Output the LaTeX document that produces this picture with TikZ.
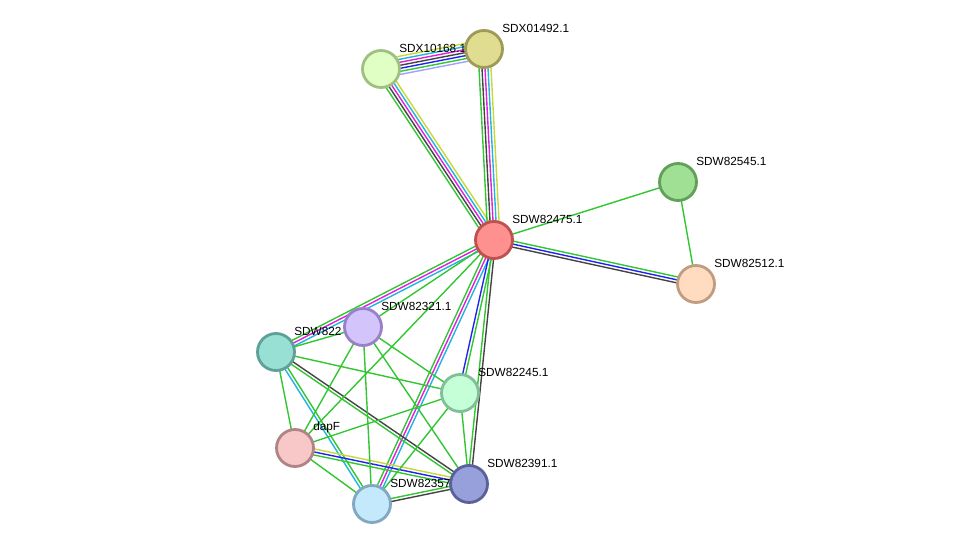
\documentclass[tikz,border=0pt]{standalone}
\usepackage{fontspec}
\setmainfont{Liberation Sans}
\usetikzlibrary{calc}

\definecolor{eg}{HTML}{33C633}
\definecolor{ek}{HTML}{444444}
\definecolor{em}{HTML}{DD22DD}
\definecolor{ec}{HTML}{22B4E0}
\definecolor{ey}{HTML}{C8D838}
\definecolor{eb}{HTML}{2222F0}
\definecolor{el}{HTML}{A0A0FF}

\pgfdeclarelayer{bg}
\pgfsetlayers{bg,main}

\begin{document}
\begin{tikzpicture}[
    x=0.02cm, y=-0.02cm,
    every node/.style={font=\fontsize{6.7}{8}\selectfont},
    prot/.style={circle, minimum size=0.74cm, inner sep=0pt, line width=1.6pt},
    tag/.style={anchor=west, inner sep=0pt},
    link/.style={line width=0.8pt},
]
    \useasboundingbox (0,0) rectangle (976,550);

    % proteins and their names
    \foreach \id/\x/\y/\fc/\dc/\txt in {
        x10168/381/69/E0FFC4/A0C080/SDX10168.1,
        x01492/484/49/E0DC90/A09A58/SDX01492.1,
        hub/494/240/FF9090/C05050/SDW82475.1,
        s82545/678/182/A0E094/60A058/SDW82545.1,
        s82512/696/284/FFDCC0/C09C80/SDW82512.1,
        teal/276/352/98E0D4/60A098/SDW822,
        s82321/363/327/D4C4FC/9A80C8/SDW82321.1,
        s82245/460/393/C4FFD8/80C098/SDW82245.1,
        dapF/295/448/F8C8C8/B08484/dapF,
        s82357/372/504/C4E8FC/80A8C0/SDW82357,
        s82391/469/484/98A0DC/5A6098/SDW82391.1%
    } {
        \definecolor{nf}{HTML}{\fc}
        \definecolor{nd}{HTML}{\dc}
        \node[prot, fill=nf, draw=nd] (\id) at (\x,\y) {};
        \node[tag] (\id-l) at ([shift={(18,-21)}]\id.center) {\txt};
    }

    % evidence lines, one per colour, side by side
    \begin{pgfonlayer}{bg}
    \foreach \pa/\pb/\n/\cols in {
        hub/x10168/5/{ey,ec,em,ek,eg},
        hub/x01492/5/{ey,ec,em,ek,eg},
        x10168/x01492/7/{el,eg,eb,ek,em,ec,ey},
        hub/s82512/3/{ek,eb,eg},
        hub/teal/3/{eg,em,ec},
        hub/s82357/3/{eg,em,ec},
        hub/s82245/2/{eb,eg},
        hub/s82391/2/{eg,ek},
        teal/s82357/2/{ec,eg},
        teal/s82391/2/{eg,ek},
        dapF/s82391/3/{eg,eb,ey},
        s82357/s82391/2/{ek,eg},
        hub/s82545/1/{eg}, s82545/s82512/1/{eg}, hub/s82321/1/{eg}, hub/dapF/1/{eg},
        teal/s82321/1/{eg}, teal/s82245/1/{eg}, teal/dapF/1/{eg},
        s82321/dapF/1/{eg}, s82321/s82357/1/{eg}, s82321/s82391/1/{eg}, s82321/s82245/1/{eg},
        s82245/dapF/1/{eg}, s82245/s82357/1/{eg}, s82245/s82391/1/{eg}, dapF/s82357/1/{eg}%
    } {
        \foreach \col [count=\i] in \cols {
            \pgfmathsetmacro{\off}{(\i-(\n+1)/2)*0.06}
            \draw[link, \col] ($(\pa.center)!\off cm!90:(\pb.center)$) -- ($(\pb.center)!\off cm!-90:(\pa.center)$);
        }
    }
    \end{pgfonlayer}

\end{tikzpicture}
\end{document}
